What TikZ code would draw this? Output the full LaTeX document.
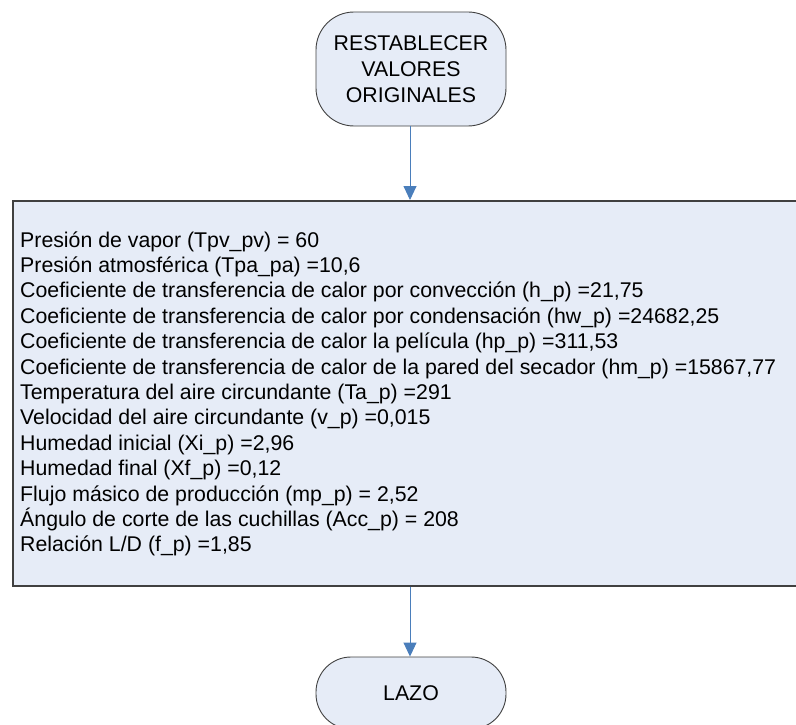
\documentclass[tikz,border=0pt]{standalone}
\usepackage{fontspec}
\setmainfont{Liberation Sans}
\usetikzlibrary{arrows.meta}
\definecolor{shapefill}{HTML}{E6ECF7}
\definecolor{shapeline}{HTML}{404040}
\definecolor{flowblue}{HTML}{4A7EBB}
\begin{document}
\begin{tikzpicture}[x=1pt,y=1pt,
  terminal/.style={draw=shapeline, line width=0.9pt, fill=shapefill,
    minimum width=190pt, align=center, inner sep=0pt,
    font=\fontsize{21.3}{25.8}\selectfont},
  panel/.style={draw=shapeline, line width=1.5pt, fill=shapefill,
    minimum width=800pt, minimum height=385pt, anchor=north west, inner sep=0pt},
  textline/.style={anchor=base west, inner sep=0pt,
    font=\fontsize{21.3}{25.5}\selectfont},
  flow/.style={draw=flowblue, line width=0.9pt,
    -{Triangle[width=13pt,length=14pt]}}]
\useasboundingbox (0,0) rectangle (796,-725);

% start terminal
\node[terminal, rounded corners=38pt, minimum height=114pt] (inicio) at (411,-69)
  {RESTABLECER\\VALORES\\ORIGINALES};

% process box with the parameter list
\node[panel] (valores) at (12,-200) {};
\foreach \t [count=\i] in {
  {Presión de vapor (Tpv\_pv) = 60},
  {Presión atmosférica (Tpa\_pa) =10,6},
  {Coeficiente de transferencia de calor por convección (h\_p) =21,75},
  {Coeficiente de transferencia de calor por condensación (hw\_p) =24682,25},
  {Coeficiente de transferencia de calor la película (hp\_p) =311,53},
  {Coeficiente de transferencia de calor de la pared del secador (hm\_p) =15867,77},
  {Temperatura del aire circundante (Ta\_p) =291},
  {Velocidad del aire circundante (v\_p) =0,015},
  {Humedad inicial (Xi\_p) =2,96},
  {Humedad final (Xf\_p) =0,12},
  {Flujo másico de producción (mp\_p) = 2,52},
  {Ángulo de corte de las cuchillas (Acc\_p) = 208},
  {Relación L/D (f\_p) =1,85}}
  \node[textline] (linea\i) at (20,{-247-25.4*(\i-1)}) {\t};

% end terminal
\node[terminal, rounded corners=35pt, minimum height=72pt] (fin) at (411,-693) {LAZO};

% connectors
\draw[flow] ([xshift=-1pt]inicio.south) -- ([xshift=-1pt]inicio.south |- valores.north);
\draw[flow] ([xshift=-1pt]fin.north |- valores.south) -- ([xshift=-1pt]fin.north);
\end{tikzpicture}
\end{document}
